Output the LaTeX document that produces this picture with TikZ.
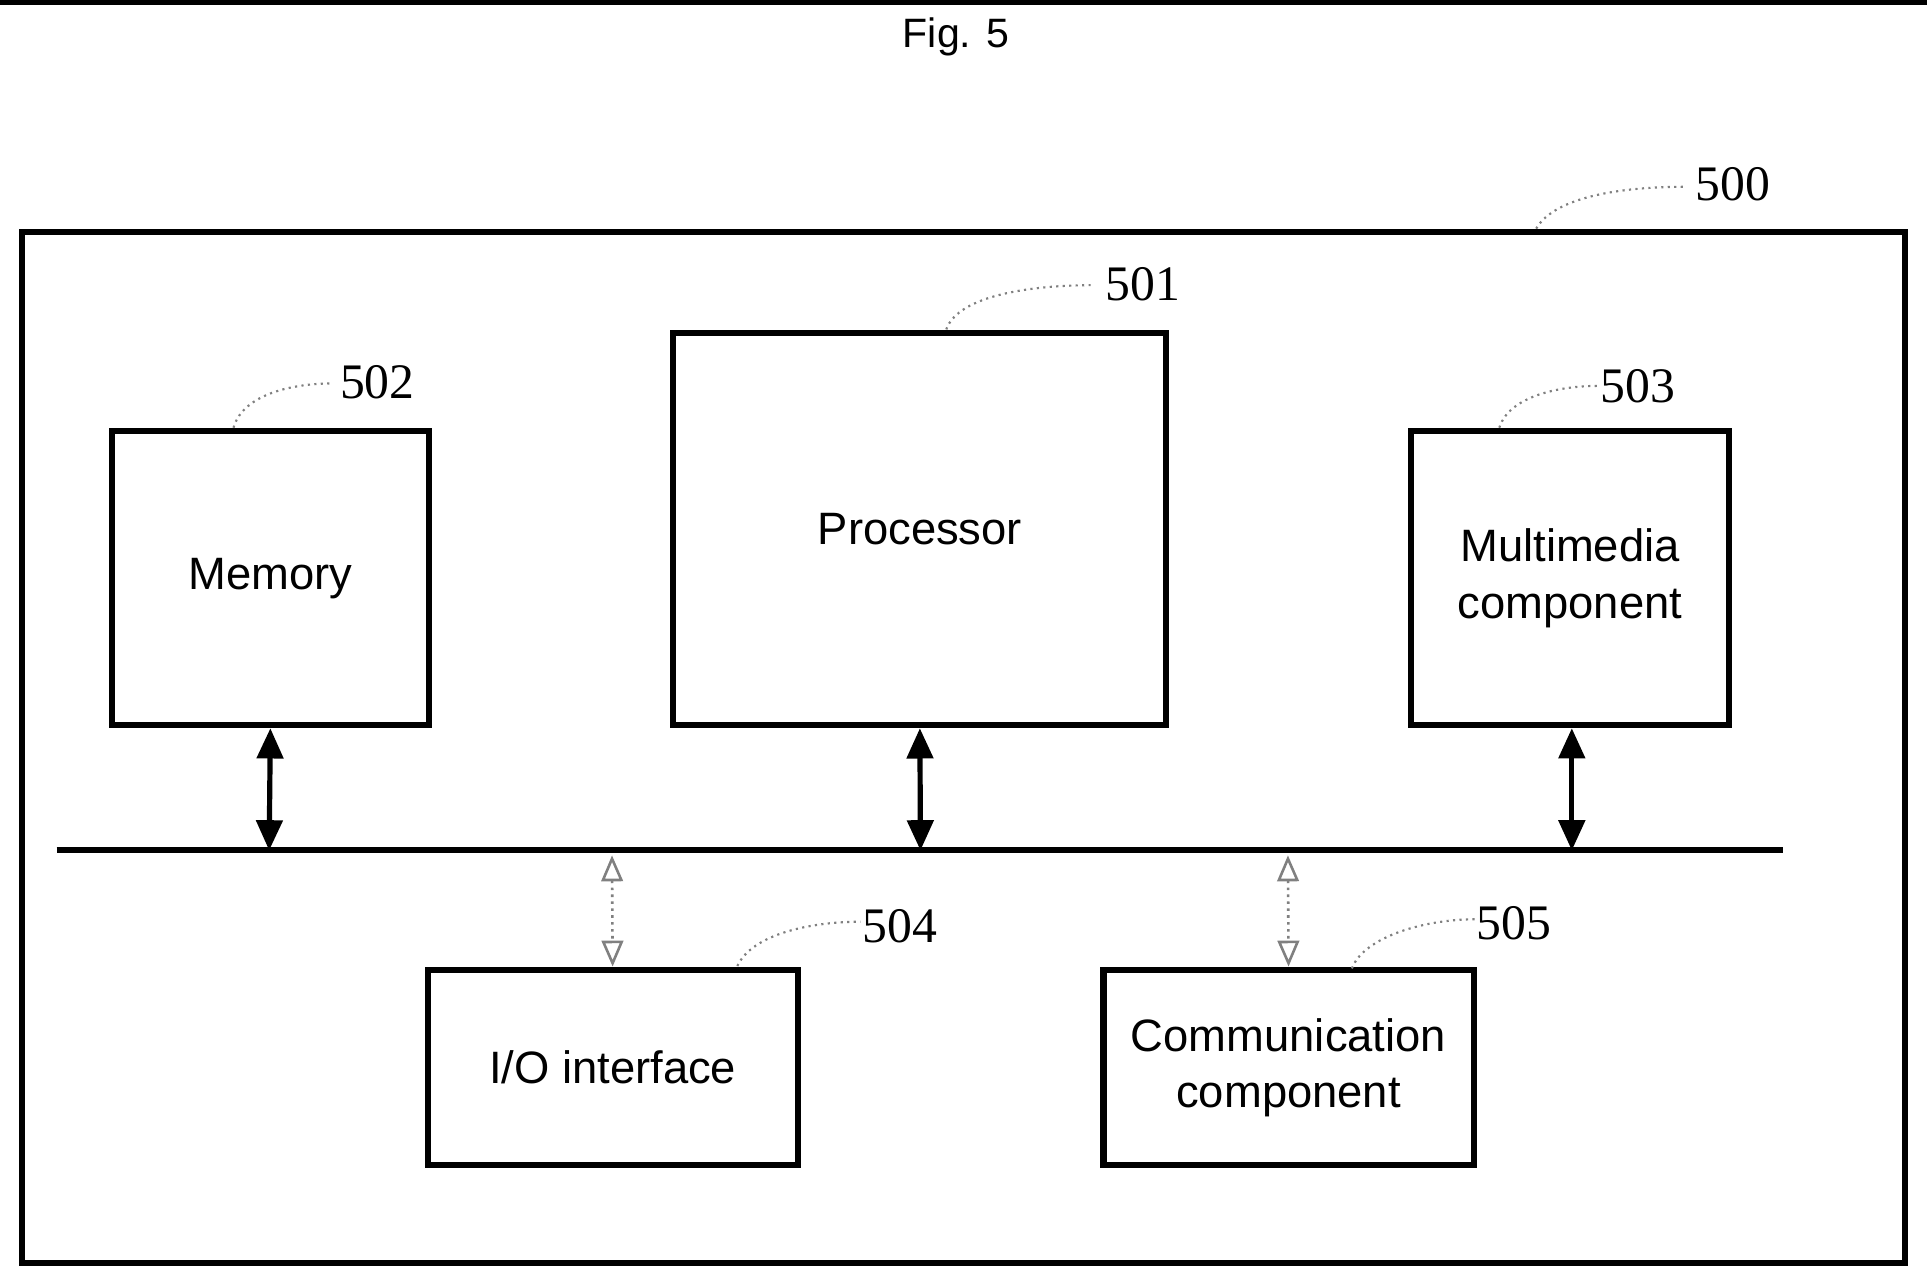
\documentclass[tikz,border=0pt]{standalone}
\usepackage{fontspec}
\setmainfont{Liberation Serif}
\setsansfont{Liberation Sans}
\usetikzlibrary{arrows.meta}
\begin{document}
\begin{tikzpicture}[x=0.01cm,y=-0.01cm,
  box/.style={draw,line width=1.4pt,inner sep=0pt,font=\sffamily\fontsize{10.5}{13}\selectfont,align=center},
  num/.style={font=\fontsize{11.5}{13}\selectfont,inner sep=0pt},
  lead/.style={gray,densely dotted,line width=0.5pt},
  bi/.style={line width=1.2pt,{Triangle[length=7pt,width=6pt]}-{Triangle[length=7pt,width=6pt]}},
  dbi/.style={gray,densely dotted,line width=0.6pt,{Triangle[length=6pt,width=5pt,open]}-{Triangle[length=6pt,width=5pt,open]}}]
\useasboundingbox (0,0) rectangle (1568,1047);
\node[font=\sffamily\fontsize{9.5}{11}\selectfont] (fig) at (778,30) {Fig. 5};
\node[draw,line width=1.4pt,minimum width=1532\pgflinewidth,inner sep=0pt] (outer) at (0,0) {};
\draw[line width=1.4pt] (18,189) rectangle (1550,1028);
\node[num] (n500) at (1410,150) {500};
\coordinate (c500) at (1250,186);
\draw[lead] (c500) .. controls (1265,160) and (1320,152) .. (1370,152);
\node[box,minimum width=4.01cm,minimum height=3.19cm] (proc) at (748.5,430.5) {Processor};
\node[num] (n501) at (930,231) {501};
\coordinate (c501) at (770,268);
\draw[lead] (c501) .. controls (780,240) and (840,232) .. (890,232);
\node[box,minimum width=2.58cm,minimum height=2.39cm] (mem) at (220,470.5) {Memory};
\node[num] (n502) at (307,311) {502};
\coordinate (c502) at (190,348);
\draw[lead] (c502) .. controls (198,320) and (240,312) .. (270,312);
\node[box,minimum width=2.59cm,minimum height=2.39cm] (mm) at (1277.5,470.5) {Multimedia\\component};
\node[num] (n503) at (1333,314) {503};
\coordinate (c503) at (1220,348);
\draw[lead] (c503) .. controls (1228,322) and (1270,314) .. (1300,314);
\coordinate (busL) at (46,692);
\coordinate (busR) at (1451,692);
\draw[line width=1.4pt] (busL) -- (busR);
\coordinate (b1) at (219,692);
\coordinate (b2) at (749,692);
\coordinate (b3) at (1279,692);
\draw[bi] (mem.south) -- (b1);
\draw[bi] (proc.south) -- (b2);
\draw[bi] (mm.south -| b3) -- (b3);
\node[box,minimum width=3.01cm,minimum height=1.59cm] (io) at (498.5,868.5) {I/O interface};
\node[box,minimum width=3.01cm,minimum height=1.59cm] (comm) at (1048.5,868.5) {Communication\\component};
\coordinate (d1) at (498,696);
\coordinate (d2) at (1048,696);
\draw[dbi] (d1) -- (io.north);
\draw[dbi] (d2) -- (comm.north);
\node[num] (n504) at (732,754) {504};
\coordinate (c504) at (600,786);
\draw[lead] (c504) .. controls (612,760) and (660,750) .. (700,750);
\node[num] (n505) at (1232,751) {505};
\coordinate (c505) at (1100,788);
\draw[lead] (c505) .. controls (1110,762) and (1160,748) .. (1200,748);
\end{tikzpicture}
\end{document}
